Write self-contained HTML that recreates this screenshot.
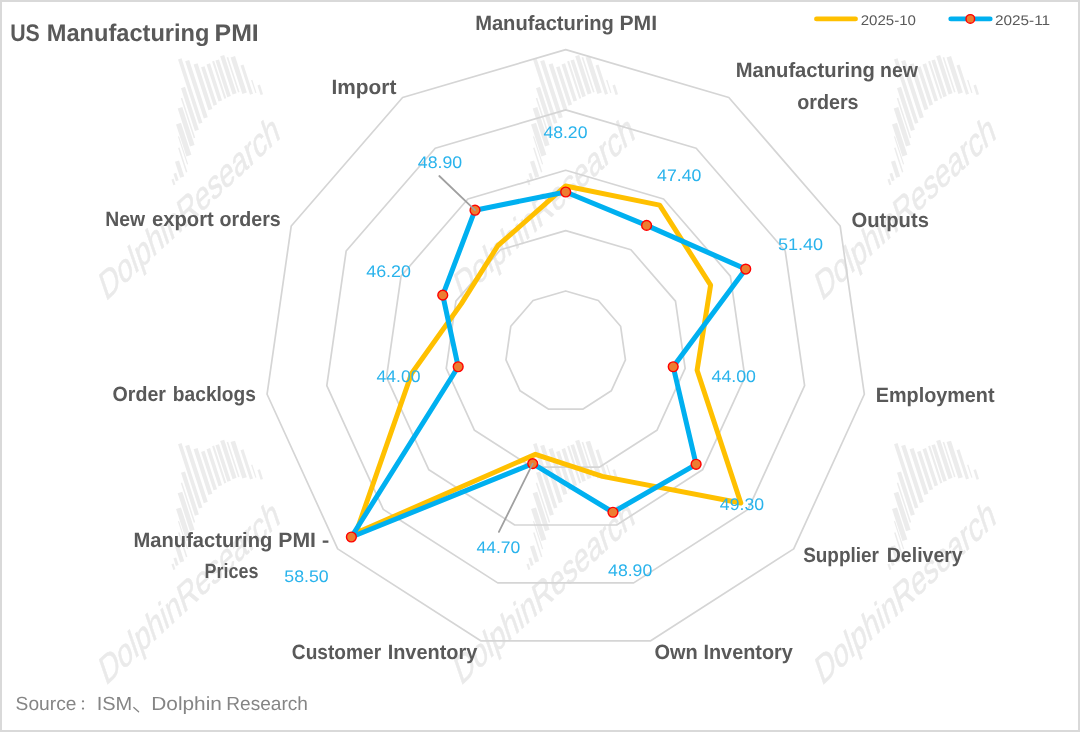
<!DOCTYPE html>
<html><head><meta charset="utf-8"><title>US Manufacturing PMI</title>
<style>html,body{margin:0;padding:0;background:#fff;}body{width:1080px;height:732px;overflow:hidden;font-family:"Liberation Sans",sans-serif;}svg{display:block;}text{font-family:"Liberation Sans",sans-serif;text-rendering:geometricPrecision;}</style></head><body>
<svg width="1080" height="732" viewBox="0 0 1080 732">
<rect x="0" y="0" width="1080" height="732" fill="#ffffff"/>
<defs><g id="wm">
<g stroke="#ececec" fill="none" stroke-linecap="butt"><line x1="2.0" y1="-0.5" x2="22.9" y2="63.9" stroke-width="3.7"/><line x1="9.4" y1="1.2" x2="28.0" y2="58.4" stroke-width="4.2"/><line x1="17.8" y1="4.5" x2="32.6" y2="50.2" stroke-width="4.2"/><line x1="25.0" y1="7.3" x2="37.5" y2="45.7" stroke-width="3.7"/><line x1="30.5" y1="4.5" x2="42.5" y2="41.6" stroke-width="3.7"/><line x1="35.3" y1="1.7" x2="47.5" y2="39.1" stroke-width="2.1"/><line x1="39.4" y1="0.6" x2="51.3" y2="37.2" stroke-width="3.7"/><line x1="44.4" y1="-3.8" x2="56.8" y2="34.4" stroke-width="4.2"/><line x1="49.6" y1="-2.2" x2="61.0" y2="32.9" stroke-width="1.6"/><line x1="55.0" y1="-2.7" x2="66.8" y2="33.8" stroke-width="4.7"/><line x1="64.2" y1="5.6" x2="73.7" y2="34.9" stroke-width="3.1"/><line x1="73.9" y1="20.6" x2="78.1" y2="33.5" stroke-width="1.3"/><line x1="80.9" y1="25.6" x2="84.0" y2="35.2" stroke-width="2.6"/><line x1="5.2" y1="28.1" x2="19.1" y2="71.0" stroke-width="4.2"/><line x1="3.7" y1="38.6" x2="16.7" y2="78.5" stroke-width="1.5"/><line x1="2.2" y1="48.4" x2="14.5" y2="86.3" stroke-width="4.8"/><line x1="0.7" y1="64.2" x2="11.1" y2="96.2" stroke-width="5.2"/><line x1="0.7" y1="77.0" x2="9.8" y2="105.0" stroke-width="1.2"/><line x1="1.0" y1="88.3" x2="8.9" y2="112.8" stroke-width="1.5"/><line x1="-0.8" y1="101.8" x2="4.4" y2="117.7" stroke-width="4.3"/><line x1="-3.0" y1="113.8" x2="-0.5" y2="121.4" stroke-width="2.9"/><line x1="-5.3" y1="119.8" x2="-3.4" y2="125.5" stroke-width="2.2"/></g>
<text transform="matrix(0.7314,-0.6820,0.3256,0.9455,-72.0,242.0)" x="0" y="0" font-size="38" fill="#eaeaea" stroke="#eaeaea" stroke-width="0.5" textLength="240" lengthAdjust="spacingAndGlyphs">DolphinResearch</text>
</g></defs>
<filter id="nf" x="0" y="0" width="1080" height="732" filterUnits="userSpaceOnUse" color-interpolation-filters="sRGB"><feOffset dx="0" dy="0"/></filter><g filter="url(#nf)">
<use href="#wm" x="177.8" y="59.4"/>
<use href="#wm" x="532.8" y="59.4"/>
<use href="#wm" x="893.8" y="59.4"/>
<use href="#wm" x="177.8" y="444.1"/>
<use href="#wm" x="532.8" y="444.1"/>
<use href="#wm" x="893.8" y="444.1"/>
<polygon points="565.70,290.96 598.32,300.54 620.59,326.23 625.43,359.89 611.30,390.81 582.70,409.20 548.70,409.20 520.10,390.81 505.97,359.89 510.81,326.23 533.08,300.54" fill="none" stroke="#d5d5d5" stroke-width="1.7" stroke-linejoin="round"/>
<polygon points="565.70,230.62 630.94,249.78 675.47,301.17 685.15,368.47 656.90,430.33 599.70,467.09 531.70,467.09 474.50,430.33 446.25,368.47 455.93,301.17 500.46,249.78" fill="none" stroke="#d5d5d5" stroke-width="1.7" stroke-linejoin="round"/>
<polygon points="565.70,170.28 663.57,199.02 730.36,276.10 744.88,377.06 702.51,469.84 616.70,524.99 514.70,524.99 428.89,469.84 386.52,377.06 401.04,276.10 467.83,199.02" fill="none" stroke="#d5d5d5" stroke-width="1.7" stroke-linejoin="round"/>
<polygon points="565.70,109.94 696.19,148.26 785.25,251.04 804.60,385.65 748.11,509.36 633.70,582.88 497.70,582.88 383.29,509.36 326.80,385.65 346.15,251.04 435.21,148.26" fill="none" stroke="#d5d5d5" stroke-width="1.7" stroke-linejoin="round"/>
<polygon points="565.70,49.60 728.81,97.49 840.14,225.97 864.33,394.24 793.71,548.87 650.70,640.78 480.70,640.78 337.69,548.87 267.07,394.24 291.26,225.97 402.59,97.49" fill="none" stroke="#d5d5d5" stroke-width="1.7" stroke-linejoin="round"/>
<polygon points="565.70,185.97 659.65,205.11 710.60,285.13 697.10,370.19 740.81,503.03 602.42,476.35 535.44,454.35 355.93,533.07 411.61,373.46 461.41,303.67 497.85,245.72" fill="none" stroke="#FFC000" stroke-width="5.0" stroke-linejoin="round"/>
<polygon points="565.70,192.00 646.60,225.41 745.73,269.08 673.21,366.76 696.12,464.31 612.96,512.25 532.72,463.62 351.37,537.02 458.19,366.76 442.75,295.15 475.01,210.18" fill="none" stroke="#00B0F0" stroke-width="5.0" stroke-linejoin="round"/>
<circle cx="565.70" cy="192.00" r="4.9" fill="#ED7D31" stroke="#FF0000" stroke-width="1.4"/>
<circle cx="646.60" cy="225.41" r="4.9" fill="#ED7D31" stroke="#FF0000" stroke-width="1.4"/>
<circle cx="745.73" cy="269.08" r="4.9" fill="#ED7D31" stroke="#FF0000" stroke-width="1.4"/>
<circle cx="673.21" cy="366.76" r="4.9" fill="#ED7D31" stroke="#FF0000" stroke-width="1.4"/>
<circle cx="696.12" cy="464.31" r="4.9" fill="#ED7D31" stroke="#FF0000" stroke-width="1.4"/>
<circle cx="612.96" cy="512.25" r="4.9" fill="#ED7D31" stroke="#FF0000" stroke-width="1.4"/>
<circle cx="532.72" cy="463.62" r="4.9" fill="#ED7D31" stroke="#FF0000" stroke-width="1.4"/>
<circle cx="351.37" cy="537.02" r="4.9" fill="#ED7D31" stroke="#FF0000" stroke-width="1.4"/>
<circle cx="458.19" cy="366.76" r="4.9" fill="#ED7D31" stroke="#FF0000" stroke-width="1.4"/>
<circle cx="442.75" cy="295.15" r="4.9" fill="#ED7D31" stroke="#FF0000" stroke-width="1.4"/>
<circle cx="475.01" cy="210.18" r="4.9" fill="#ED7D31" stroke="#FF0000" stroke-width="1.4"/>
<g stroke="#a0a0a0" stroke-width="1.8" stroke-linecap="round" fill="none">
<line x1="439.3" y1="176" x2="475.0" y2="210.2"/>
<line x1="498.9" y1="531.9" x2="532.7" y2="463.6"/>
</g>
<text x="10.22" y="40.6" font-size="24" font-weight="bold" fill="#595959" textLength="29.61" lengthAdjust="spacingAndGlyphs">US</text>
<text x="46.71" y="40.6" font-size="24" font-weight="bold" fill="#595959" textLength="162.76" lengthAdjust="spacingAndGlyphs">Manufacturing</text>
<text x="214.57" y="40.6" font-size="24" font-weight="bold" fill="#595959" textLength="44.22" lengthAdjust="spacingAndGlyphs">PMI</text>
<text x="475.14" y="29.7" font-size="20.7" font-weight="bold" fill="#595959" textLength="138.80" lengthAdjust="spacingAndGlyphs">Manufacturing</text>
<text x="619.47" y="29.7" font-size="20.7" font-weight="bold" fill="#595959" textLength="37.67" lengthAdjust="spacingAndGlyphs">PMI</text>
<text x="735.64" y="77.1" font-size="20.7" font-weight="bold" fill="#595959" textLength="139.21" lengthAdjust="spacingAndGlyphs">Manufacturing</text>
<text x="880.03" y="77.1" font-size="20.7" font-weight="bold" fill="#595959" textLength="37.92" lengthAdjust="spacingAndGlyphs">new</text>
<text x="797.21" y="109.1" font-size="20.7" font-weight="bold" fill="#595959" textLength="61.38" lengthAdjust="spacingAndGlyphs">orders</text>
<text x="851.49" y="226.6" font-size="20.7" font-weight="bold" fill="#595959" textLength="77.42" lengthAdjust="spacingAndGlyphs">Outputs</text>
<text x="875.76" y="401.5" font-size="20.7" font-weight="bold" fill="#595959" textLength="118.81" lengthAdjust="spacingAndGlyphs">Employment</text>
<text x="803.13" y="562.2" font-size="20.7" font-weight="bold" fill="#595959" textLength="75.82" lengthAdjust="spacingAndGlyphs">Supplier</text>
<text x="886.78" y="562.2" font-size="20.7" font-weight="bold" fill="#595959" textLength="75.95" lengthAdjust="spacingAndGlyphs">Delivery</text>
<text x="654.50" y="658.5" font-size="20.7" font-weight="bold" fill="#595959" textLength="43.33" lengthAdjust="spacingAndGlyphs">Own</text>
<text x="703.46" y="658.5" font-size="20.7" font-weight="bold" fill="#595959" textLength="89.46" lengthAdjust="spacingAndGlyphs">Inventory</text>
<text x="291.84" y="658.5" font-size="20.7" font-weight="bold" fill="#595959" textLength="89.25" lengthAdjust="spacingAndGlyphs">Customer</text>
<text x="387.66" y="658.5" font-size="20.7" font-weight="bold" fill="#595959" textLength="89.67" lengthAdjust="spacingAndGlyphs">Inventory</text>
<text x="133.54" y="546.9" font-size="20.7" font-weight="bold" fill="#595959" textLength="138.80" lengthAdjust="spacingAndGlyphs">Manufacturing</text>
<text x="278.27" y="546.9" font-size="20.7" font-weight="bold" fill="#595959" textLength="37.67" lengthAdjust="spacingAndGlyphs">PMI</text>
<text x="204.59" y="578.2" font-size="20.7" font-weight="bold" fill="#595959" textLength="53.83" lengthAdjust="spacingAndGlyphs">Prices</text>
<text x="112.51" y="401.3" font-size="20.7" font-weight="bold" fill="#595959" textLength="53.44" lengthAdjust="spacingAndGlyphs">Order</text>
<text x="172.85" y="401.3" font-size="20.7" font-weight="bold" fill="#595959" textLength="83.12" lengthAdjust="spacingAndGlyphs">backlogs</text>
<text x="105.19" y="226.3" font-size="20.7" font-weight="bold" fill="#595959" textLength="39.78" lengthAdjust="spacingAndGlyphs">New</text>
<text x="151.99" y="226.3" font-size="20.7" font-weight="bold" fill="#595959" textLength="61.79" lengthAdjust="spacingAndGlyphs">export</text>
<text x="219.61" y="226.3" font-size="20.7" font-weight="bold" fill="#595959" textLength="61.17" lengthAdjust="spacingAndGlyphs">orders</text>
<text x="331.49" y="93.5" font-size="20.7" font-weight="bold" fill="#595959" textLength="64.89" lengthAdjust="spacingAndGlyphs">Import</text>
<rect x="322.7" y="540.5" width="5.7" height="2.3" fill="#595959"/>
<text x="543.40" y="138.1" font-size="16.8" font-weight="normal" fill="#29B3EC" textLength="44.06" lengthAdjust="spacingAndGlyphs">48.20</text>
<text x="657.10" y="180.5" font-size="16.8" font-weight="normal" fill="#29B3EC" textLength="44.26" lengthAdjust="spacingAndGlyphs">47.40</text>
<text x="777.98" y="250.1" font-size="16.8" font-weight="normal" fill="#29B3EC" textLength="45.20" lengthAdjust="spacingAndGlyphs">51.40</text>
<text x="711.50" y="381.9" font-size="16.8" font-weight="normal" fill="#29B3EC" textLength="44.47" lengthAdjust="spacingAndGlyphs">44.00</text>
<text x="719.80" y="509.9" font-size="16.8" font-weight="normal" fill="#29B3EC" textLength="44.26" lengthAdjust="spacingAndGlyphs">49.30</text>
<text x="608.10" y="576.3" font-size="16.8" font-weight="normal" fill="#29B3EC" textLength="44.16" lengthAdjust="spacingAndGlyphs">48.90</text>
<text x="476.40" y="553.4" font-size="16.8" font-weight="normal" fill="#29B3EC" textLength="43.95" lengthAdjust="spacingAndGlyphs">44.70</text>
<text x="284.29" y="582.2" font-size="16.8" font-weight="normal" fill="#29B3EC" textLength="44.37" lengthAdjust="spacingAndGlyphs">58.50</text>
<text x="376.50" y="381.5" font-size="16.8" font-weight="normal" fill="#29B3EC" textLength="44.06" lengthAdjust="spacingAndGlyphs">44.00</text>
<text x="366.20" y="276.6" font-size="16.8" font-weight="normal" fill="#29B3EC" textLength="44.77" lengthAdjust="spacingAndGlyphs">46.20</text>
<text x="417.80" y="168.2" font-size="16.8" font-weight="normal" fill="#29B3EC" textLength="44.36" lengthAdjust="spacingAndGlyphs">48.90</text>
<line x1="816.5" y1="18.9" x2="855.5" y2="18.9" stroke="#FFC000" stroke-width="4.9" stroke-linecap="round"/>
<line x1="950.8" y1="18.9" x2="990.2" y2="18.9" stroke="#00B0F0" stroke-width="4.9" stroke-linecap="round"/>
<circle cx="970.3" cy="18.9" r="4.3" fill="#ED7D31" stroke="#FF0000" stroke-width="1.4"/>
<text x="860.65" y="25.0" font-size="14" font-weight="normal" fill="#595959" textLength="55.32" lengthAdjust="spacingAndGlyphs">2025-10</text>
<text x="994.93" y="25.0" font-size="14" font-weight="normal" fill="#595959" textLength="55.21" lengthAdjust="spacingAndGlyphs">2025-11</text>
<text x="15.64" y="709.8" font-size="19" font-weight="normal" fill="#858585" textLength="60.80" lengthAdjust="spacingAndGlyphs">Source</text>
<circle cx="83" cy="701.3" r="1.15" fill="#858585"/><circle cx="83" cy="708.6" r="1.15" fill="#858585"/>
<text x="96.65" y="709.8" font-size="19" font-weight="normal" fill="#858585" textLength="35.61" lengthAdjust="spacingAndGlyphs">ISM</text>
<path d="M133.8 707.4 L138.6 711.8" stroke="#858585" stroke-width="1.3" fill="none" stroke-linecap="round"/>
<text x="151.28" y="709.8" font-size="19" font-weight="normal" fill="#858585" textLength="70.60" lengthAdjust="spacingAndGlyphs">Dolphin</text>
<text x="226.22" y="709.8" font-size="19" font-weight="normal" fill="#858585" textLength="81.76" lengthAdjust="spacingAndGlyphs">Research</text>
</g>
<rect x="1" y="1" width="1078" height="730" fill="none" stroke="#d9d9d9" stroke-width="2"/>
</svg></body></html>
